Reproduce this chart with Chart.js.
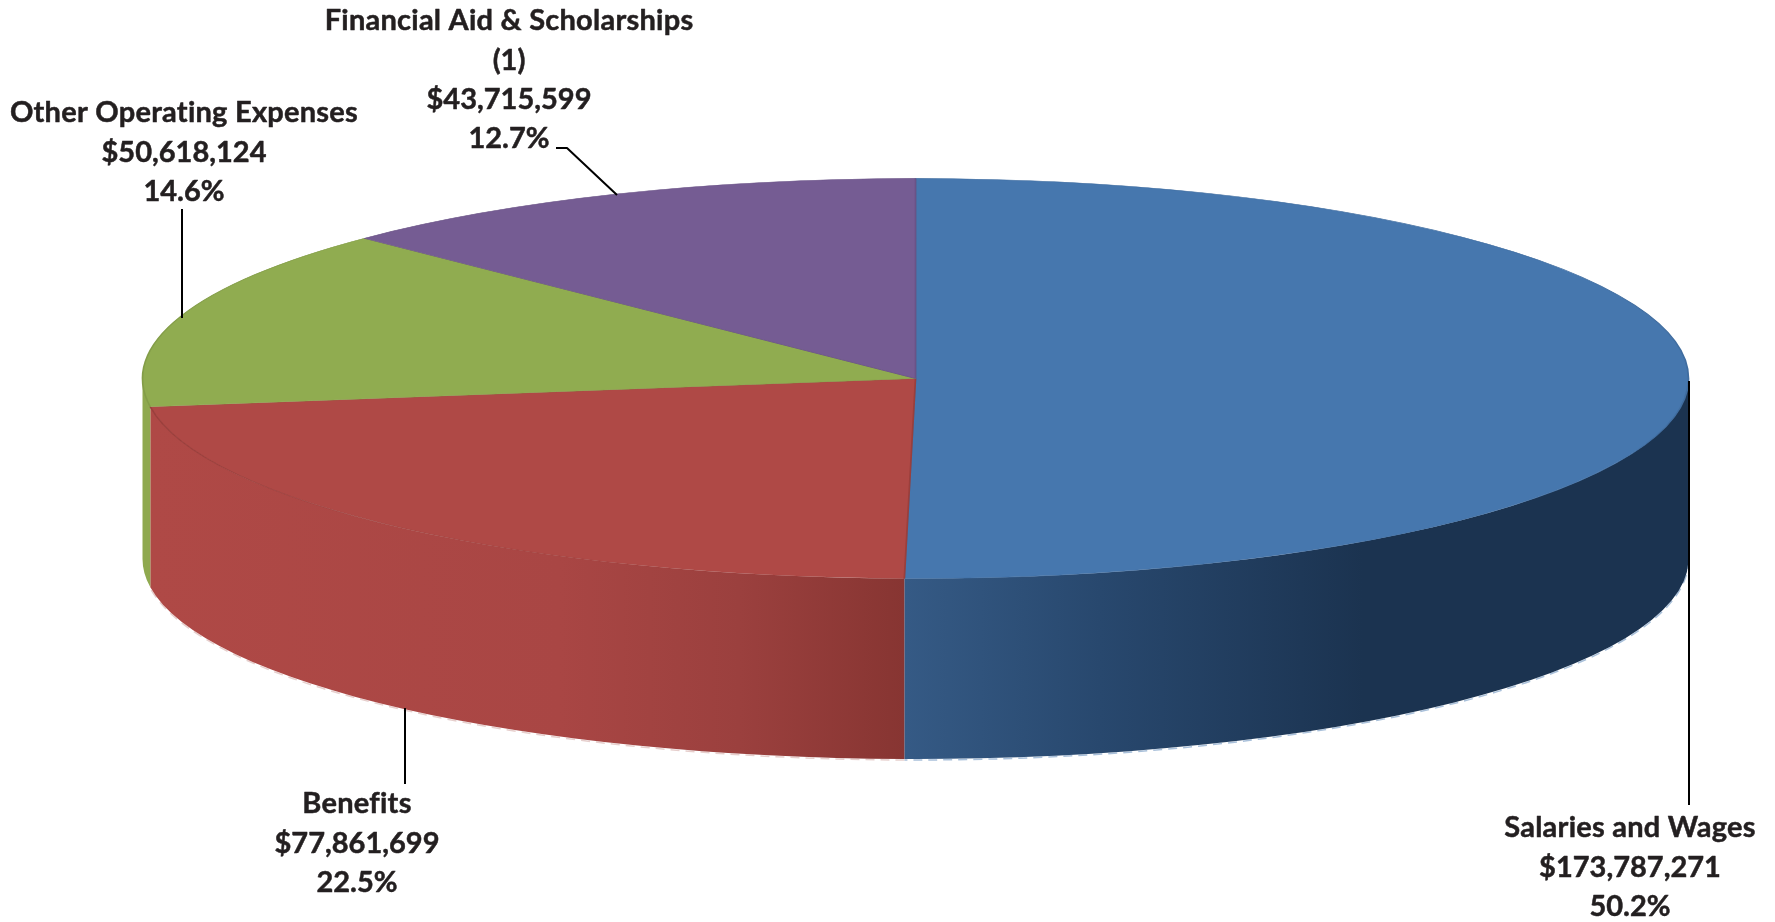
<!DOCTYPE html>
<html>
<head>
<meta charset="utf-8">
<title>Expenses</title>
<style>
  html, body { margin: 0; padding: 0; background: #fff; }
  canvas { display: block; }
</style>
<script src="https://cdn.jsdelivr.net/npm/chart.js@4"></script>
</head>
<body>
<canvas id="expenseChart" width="1775" height="922"></canvas>
<script>
const categories = ['Salaries and Wages', 'Benefits', 'Other Operating Expenses', 'Financial Aid & Scholarships'];
const amounts = [173787271, 77861699, 50618124, 43715599];
const percentLabels = ['50.2%', '22.5%', '14.6%', '12.7%'];
const topColors = ['#4677ae', '#af4946', '#90ac50', '#755c93'];
const edgeColors = ['#3f6c9f', '#9a3f3c', '#839d48', '#6a5386'];

// ellipse of the tilted top face, in page pixels
const CX = 915.5, CY = 378.5, RX = 773, RY = 200, DEPTH = 180.5;

const wallStops = [
    [[905, '#355a85'], [1100, '#28486e'], [1363, '#1b3350'], [1689, '#1b3350']],
    [[150, '#af4946'], [560, '#a94644'], [740, '#9b403e'], [905, '#873532']],
    [[143, '#8fa94f'], [150, '#8fa94f']],
    [[143, '#755c93'], [150, '#755c93']]
];
const rimColors = ['#a9c0da', '#e6cfcd', null, null];

// where each callout sits: text centre, first line centre, leader line
const callouts = [
    { x: 1630, y: 828, lines: [[1689, 381], [1689, 805]] },
    { x: 357, y: 804, lines: [[405, 708], [405, 784]] },
    { x: 184, y: 113, lines: [[182, 209], [182, 318]] },
    { x: 509, y: 21, lines: [[556, 148], [567, 148], [617, 195]] }
];

function labelLines(i) {
    let name = [categories[i]];
    if (i === 3) name = [categories[i], '(1)'];
    return name.concat('$' + amounts[i].toLocaleString('en-US'), percentLabels[i]);
}

function wallGradient(ctx, stops) {
    const first = stops[0][0], last = stops[stops.length - 1][0];
    const g = ctx.createLinearGradient(first, 0, last, 0);
    stops.forEach(s => g.addColorStop((s[0] - first) / (last - first), s[1]));
    return g;
}

const pie3d = {
    id: 'pie3d',
    beforeDatasetsDraw(chart) {
        const ctx = chart.ctx;
        const arcs = chart.getDatasetMeta(0).data;
        arcs.forEach((arc, i) => {
            const a0 = Math.max(arc.startAngle, 0);
            const a1 = Math.min(arc.endAngle, Math.PI);
            if (a1 <= a0) return;
            // broken pale rim under the wall, like the scan in the original
            if (rimColors[i]) {
                ctx.save();
                ctx.beginPath();
                ctx.ellipse(CX, CY + DEPTH + 1, RX, RY, 0, a0, a1);
                ctx.strokeStyle = rimColors[i];
                ctx.lineWidth = 1.5;
                ctx.setLineDash([9, 6]);
                ctx.stroke();
                ctx.restore();
            }
            ctx.beginPath();
            ctx.ellipse(CX, CY, RX, RY, 0, a0, a1);
            ctx.ellipse(CX, CY + DEPTH, RX, RY, 0, a1, a0, true);
            ctx.closePath();
            ctx.fillStyle = wallGradient(ctx, wallStops[i]);
            ctx.fill();
        });
        // squash the round pie into the top face
        const first = arcs[0];
        ctx.save();
        ctx.translate(CX, CY);
        ctx.scale(RX / first.outerRadius, RY / first.outerRadius);
        ctx.translate(-first.x, -first.y);
    },
    afterDatasetsDraw(chart) {
        chart.ctx.restore();
    },
    afterDraw(chart) {
        const ctx = chart.ctx;
        ctx.save();
        ctx.lineJoin = 'round';
        ctx.font = '700 29px Lato';
        ctx.textAlign = 'center';
        ctx.textBaseline = 'middle';
        callouts.forEach((c, i) => {
            ctx.beginPath();
            c.lines.forEach((p, j) => j ? ctx.lineTo(p[0], p[1]) : ctx.moveTo(p[0], p[1]));
            ctx.strokeStyle = '#000';
            ctx.lineWidth = 2;
            ctx.stroke();
            labelLines(i).forEach((text, j) => {
                const isName = /[a-z]/i.test(text);
                ctx.letterSpacing = isName ? '0.25px' : '0px';
                ctx.fillStyle = ctx.strokeStyle = '#231f20';
                ctx.lineWidth = 0.5;
                ctx.strokeText(text, c.x, c.y + j * 39.3);
                ctx.fillText(text, c.x, c.y + j * 39.3);
            });
        });
        ctx.restore();
    }
};

new Chart(document.getElementById('expenseChart'), {
    type: 'pie',
    data: {
        labels: categories,
        datasets: [{
            data: amounts,
            backgroundColor: topColors,
            borderColor: edgeColors,
            borderWidth: 1
        }]
    },
    options: {
        responsive: false,
        animation: false,
        devicePixelRatio: 1,
        layout: { padding: 0 },
        plugins: { legend: { display: false }, tooltip: { enabled: false } }
    },
    plugins: [pie3d]
});
</script>
</body>
</html>
